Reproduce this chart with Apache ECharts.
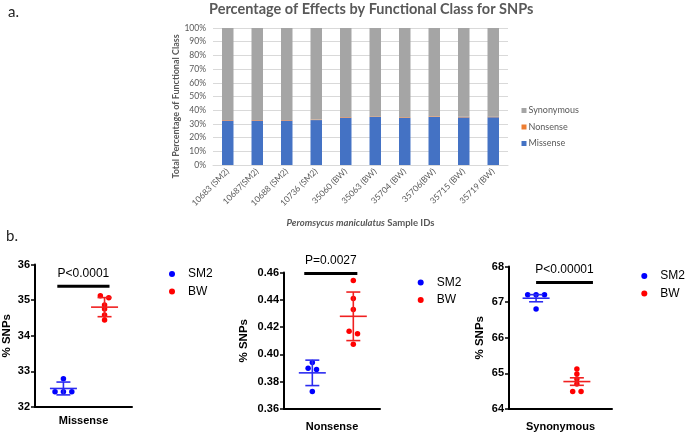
<!DOCTYPE html>
<html><head><meta charset="utf-8">
<script src="https://cdn.jsdelivr.net/npm/echarts@6/dist/echarts.min.js"></script>
<style>html,body{margin:0;padding:0;background:#fff}#c{width:685px;height:432px}</style>
</head><body><div id="c"></div>
<script>
// ---------- DATA ----------
const sampleIDs = ['10683 (SM2)','10687(SM2)','10688 (SM2)','10736 (SM2)','35060 (BW)','35063 (BW)','35704 (BW)','35706(BW)','35715 (BW)','35719 (BW)'];
const missenseBySample   = [32.43, 32.43, 32.43, 32.79, 34.58, 35.07, 34.44, 35.12, 34.75, 34.86];
const nonsenseBySample   = [0.3899, 0.3941, 0.3890, 0.3729, 0.4151, 0.4075, 0.4541, 0.4169, 0.4409, 0.4329];
const synonymousBySample = [67.21, 67.21, 67.21, 66.81, 64.98, 64.49, 65.12, 64.49, 64.84, 64.70];
const classLegend = ['Synonymous','Nonsense','Missense'];

const classNames = ['Missense','Nonsense','Synonymous'];
const groupNames = ['SM2','BW'];
const missenseSM2   = [32.79, 32.43, 32.43, 32.43];
const missenseBW    = [35.12, 35.07, 34.86, 34.75, 34.58, 34.44];
const nonsenseSM2   = [0.3941, 0.3899, 0.3890, 0.3729];
const nonsenseBW    = [0.4541, 0.4409, 0.4329, 0.4169, 0.4151, 0.4075];
const synonymousSM2 = [67.21, 67.21, 67.21, 66.81];
const synonymousBW  = [65.12, 64.98, 64.84, 64.70, 64.49, 64.49];
const pValueLabels  = ['P<0.0001','P=0.0027','P<0.00001'];
const missenseTicks   = [32, 36, 1];
const nonsenseTicks   = [0.36, 0.46, 0.02];
const synonymousTicks = [64, 68, 1];

// ---------- LAYOUT / STYLE ----------
const GREY = '#595959';
const TOPFONT = 'Lato';
const BFONT = 'Liberation Sans';
const groupColors = ['#0000ff', '#ff0000'];
const lineColors = ['#2b2bf0', '#f02020'];
const panels = [
  {values:[missenseSM2, missenseBW], ticks:missenseTicks, dec:0, grid:{left:35, top:264.5, width:97, height:142.5},
   centers:[0.293,0.717], sig:[0.23,0.768,35.39], err:'sd', nameGap:22, labelMargin:8, legend:{left:169, top:268}},
  {values:[nonsenseSM2, nonsenseBW], ticks:nonsenseTicks, dec:2, grid:{left:284, top:272.5, width:96, height:142},
   centers:[0.295,0.722], sig:[0.211,0.764,0.4593], err:'sd', nameGap:34, labelMargin:12, legend:{left:417.7, top:276.5}},
  {values:[synonymousSM2, synonymousBW], ticks:synonymousTicks, dec:0, grid:{left:509, top:266.5, width:103, height:142.5},
   centers:[0.263,0.659], sig:[0.263,0.815,67.55], err:'sem', nameGap:23, labelMargin:12, legend:{left:641.3, top:270}}
];

function swarm(values, center, pxPerUnit, gridW){
  const idx = values.map((v,i)=>i).sort((a,b)=>values[b]-values[a]);
  const xs = new Array(values.length);
  let i = 0;
  while (i < idx.length){
    let j = i+1;
    while (j < idx.length && Math.abs(values[idx[j-1]]-values[idx[j]])*pxPerUnit < 3) j++;
    const n = j-i;
    for (let k=0;k<n;k++) xs[idx[i+k]] = center + (k-(n-1)/2)*8.4/gridW;
    i = j;
  }
  return values.map((v,i)=>[xs[i], v]);
}
function stats(arr, type){
  const n = arr.length, m = arr.reduce((a,b)=>a+b,0)/n;
  const sd = Math.sqrt(arr.reduce((a,b)=>a+(b-m)*(b-m),0)/(n-1));
  return [m, type==='sem' ? sd/Math.sqrt(n) : sd];
}
function errRender(color){
  return function(params, api){
    const x=api.value(0), m=api.value(1), e=api.value(2);
    const c=api.coord([x,m]), t=api.coord([x,m+e]), b=api.coord([x,m-e]);
    const st={stroke:color, lineWidth:1.6};
    return {type:'group', children:[
      {type:'line', shape:{x1:c[0]-13.5,y1:c[1],x2:c[0]+13.5,y2:c[1]}, style:st},
      {type:'line', shape:{x1:c[0],y1:t[1],x2:c[0],y2:b[1]}, style:st},
      {type:'line', shape:{x1:c[0]-7,y1:t[1],x2:c[0]+7,y2:t[1]}, style:st},
      {type:'line', shape:{x1:c[0]-7,y1:b[1],x2:c[0]+7,y2:b[1]}, style:st}
    ]};
  };
}
function sigRender(label){
  return function(params, api){
    const p1=api.coord([api.value(0), api.value(2)]), p2=api.coord([api.value(1), api.value(2)]);
    return {type:'group', children:[
      {type:'line', shape:{x1:p1[0],y1:p1[1],x2:p2[0],y2:p2[1]}, style:{stroke:'#000', lineWidth:3}},
      {type:'text', style:{text:label, x:(p1[0]+p2[0])/2, y:p1[1]-12.5, align:'center', verticalAlign:'middle',
        font:'12px "Liberation Sans"', fill:'#000'}}
    ]};
  };
}

const grids = [{left:213, top:28, width:295, height:137}];
const xAxes = [{
  type:'category', gridIndex:0, data:sampleIDs,
  axisLine:{lineStyle:{color:'#d9d9d9'}}, axisTick:{show:false},
  axisLabel:{rotate:45, interval:0, fontSize:8.5, color:GREY, fontFamily:TOPFONT, margin:5},
  name:'{i|Peromsycus maniculatus} Sample IDs', nameLocation:'middle', nameGap:53,
  nameTextStyle:{fontFamily:TOPFONT, fontSize:9.5, fontWeight:'bold', color:GREY,
    rich:{i:{fontFamily:TOPFONT, fontSize:9.5, fontWeight:'bold', fontStyle:'italic', color:GREY}}}
}];
const yAxes = [{
  type:'value', gridIndex:0, min:0, max:100, interval:10,
  axisLabel:{formatter:'{value}%', fontSize:8.5, color:GREY, fontFamily:TOPFONT, margin:7},
  splitLine:{lineStyle:{color:'#d9d9d9'}}, axisLine:{show:false}, axisTick:{show:false},
  name:'Total Percentage of Functional Class', nameLocation:'middle', nameGap:29,
  nameTextStyle:{fontFamily:TOPFONT, fontSize:9, fontWeight:'bold', color:GREY, padding:[0,0,0,-20]}
}];
const series = [
  {name:'Missense', type:'bar', stack:'all', xAxisIndex:0, yAxisIndex:0, data:missenseBySample, barWidth:11.5, itemStyle:{color:'#4472c4'}},
  {name:'Nonsense', type:'bar', stack:'all', xAxisIndex:0, yAxisIndex:0, data:nonsenseBySample, itemStyle:{color:'#ed7d31'}},
  {name:'Synonymous', type:'bar', stack:'all', xAxisIndex:0, yAxisIndex:0, data:synonymousBySample, itemStyle:{color:'#a5a5a5'}}
];
const legends = [{
  data:classLegend, orient:'vertical', left:521.5, top:106, padding:0, itemWidth:5, itemHeight:5, itemGap:7.5,
  icon:'rect', textStyle:{fontSize:9, color:GREY, fontFamily:TOPFONT, padding:[0,0,0,-3]}
}];

panels.forEach((p, k) => {
  const gi = k+1;
  grids.push(p.grid);
  const [mn, mx, iv] = p.ticks;
  const pxPerUnit = p.grid.height/(mx-mn);
  xAxes.push({
    type:'category', gridIndex:gi, data:[classNames[k]], boundaryGap:true,
    axisLine:{lineStyle:{color:'#000', width:2}},
    axisTick:{alignWithLabel:true, length:5, lineStyle:{color:'#000', width:1.5}},
    axisLabel:{fontFamily:BFONT, fontSize:11, fontWeight:'bold', color:'#000', margin:p.labelMargin}
  });
  xAxes.push({type:'value', gridIndex:gi, min:0, max:1, show:false});
  yAxes.push({
    type:'value', gridIndex:gi, min:mn, max:mx, interval:iv,
    axisLine:{show:true, lineStyle:{color:'#000', width:2}},
    axisTick:{show:true, length:4, lineStyle:{color:'#000', width:1.5}},
    splitLine:{show:false},
    axisLabel:{fontFamily:BFONT, fontSize:11, fontWeight:'bold', color:'#000', margin:5,
      formatter:v=>v.toFixed(p.dec)},
    name:'% SNPs', nameLocation:'middle', nameGap:p.nameGap,
    nameTextStyle:{fontFamily:BFONT, fontSize:11.5, fontWeight:'bold', color:'#000'}
  });
  const xvi = xAxes.length-1, yi = yAxes.length-1;
  p.values.forEach((vals, g) => {
    series.push({
      name:groupNames[g], type:'scatter', xAxisIndex:xvi, yAxisIndex:yi,
      data:swarm(vals, p.centers[g], pxPerUnit, p.grid.width),
      symbolSize:5.5, itemStyle:{color:groupColors[g], opacity:1}, z:3
    });
    const [m, e] = stats(vals, p.err);
    series.push({
      name:groupNames[g]+' summary', type:'custom', xAxisIndex:xvi, yAxisIndex:yi,
      data:[[p.centers[g], m, e]], renderItem:errRender(lineColors[g]), z:4, silent:true
    });
  });
  series.push({
    name:'sig'+k, type:'custom', xAxisIndex:xvi, yAxisIndex:yi,
    data:[p.sig], renderItem:sigRender(pValueLabels[k]), z:5, silent:true
  });
  legends.push({
    data:groupNames, orient:'vertical', left:p.legend.left, top:p.legend.top, padding:0,
    itemWidth:6, itemHeight:6, itemGap:5.5, icon:'circle',
    textStyle:{fontFamily:BFONT, fontSize:12, color:'#000', padding:[0,0,0,8]}
  });
});

const chart = echarts.init(document.getElementById('c'));
chart.setOption({
  animation:false,
  backgroundColor:'#fff',
  title:{text:'Percentage of Effects by Functional Class for SNPs', left:209, top:2, padding:0,
    textStyle:{fontFamily:TOPFONT, fontSize:14.5, fontWeight:'bold', color:GREY}},
  graphic:[
    {type:'text', left:8, top:5, style:{text:'a.', font:'15px Lato', fill:'#222'}},
    {type:'text', left:6, top:229, style:{text:'b.', font:'15px Lato', fill:'#222'}}
  ],
  legend:legends, grid:grids, xAxis:xAxes, yAxis:yAxes, series:series
});
</script></body></html>
